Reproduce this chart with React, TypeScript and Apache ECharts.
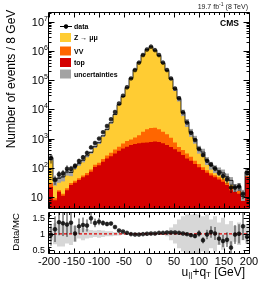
import React, { useEffect, useRef } from "react";
import * as echarts from "echarts";

const X_MIN = -200;
const X_MAX = 200;
const BIN_WIDTH = 8;
const Y_MIN = 4.2;
const Y_MAX = 2e7;
const R_MIN = 0.4;
const R_MAX = 1.65;

const xTickLabels = [-200, -150, -100, -50, 0, 50, 100, 150, 200];
const ratioTickLabels = [0.5, 1, 1.5];

const dataCounts = [215, 40, 60, 65, 93, 93, 115, 170, 230, 325, 500, 710, 1000, 1660, 2700, 4600, 8100, 16000, 29500, 57000, 115000, 224000, 400000, 725000, 1120000, 1410000, 1070000, 725000, 400000, 224000, 115000, 52000, 24000, 7900, 3550, 1580, 890, 440, 275, 175, 130, 95, 67, 52, 40, 21, 21, 23, 13, 67];
const zmumu = [192, 26, 27, 36, 52, 39, 78, 94, 125, 192, 248, 402, 575, 1040, 1800, 3150, 6270, 14000, 26900, 54500, 115200, 227500, 406900, 730600, 1117900, 1393700, 1057100, 701800, 386700, 214000, 109500, 49260, 22780, 7410, 3280, 1410, 780, 300, 240, 96, 58, 38, 32, 27, 19, 14, 1.5, 6, 0.5, 18];
const diboson = [8, 1.2, 2, 2, 3, 4, 5, 6, 8, 10, 15, 21, 27, 38, 56, 80, 111, 150, 223, 295, 340, 450, 610, 980, 1360, 1530, 1560, 1340, 1010, 800, 550, 310, 165, 135, 100, 65, 40, 30, 21, 15, 10, 9, 7, 7, 4, 6, 3, 4, 2.2, 7];
const ttbar = [22, 7.8, 15, 11, 17, 26, 31, 38, 47, 56, 73, 107, 123, 162, 209, 250, 309, 380, 457, 525, 600, 650, 690, 720, 740, 770, 790, 760, 690, 600, 520, 430, 355, 275, 210, 175, 135, 105, 84, 68, 55, 47, 40, 33, 26, 17, 17, 13, 7.8, 49];
const dataRelErr = [0.35, 0.35, 0.3, 0.3, 0.3, 0.25, 0.25, 0.2, 0.18, 0.15, 0.12, 0.1, 0.08, 0.06, 0.05, 0.04, 0.03, 0.02, 0.015, 0.01, 0.01, 0.005, 0.005, 0.005, 0.005, 0.005, 0.005, 0.005, 0.005, 0.005, 0.01, 0.01, 0.015, 0.02, 0.03, 0.05, 0.07, 0.1, 0.12, 0.15, 0.17, 0.2, 0.22, 0.25, 0.28, 0.35, 0.3, 0.3, 0.35, 0.2];
const mcRelUnc = [0.2, 0.3, 0.3, 0.3, 0.25, 0.25, 0.2, 0.15, 0.15, 0.12, 0.1, 0.1, 0.1, 0.08, 0.08, 0.07, 0.06, 0.05, 0.04, 0.03, 0.02, 0.02, 0.02, 0.02, 0.02, 0.02, 0.02, 0.02, 0.04, 0.06, 0.1, 0.15, 0.2, 0.25, 0.3, 0.3, 0.3, 0.3, 0.3, 0.3, 0.3, 0.3, 0.3, 0.3, 0.3, 0.3, 0.3, 0.3, 0.3, 0.3];
const ratioBandHalf = [0.2, 0.33, 0.4, 0.4, 0.3, 0.35, 0.25, 0.15, 0.2, 0.15, 0.12, 0.1, 0.12, 0.1, 0.08, 0.08, 0.06, 0.05, 0.04, 0.03, 0.02, 0.02, 0.02, 0.02, 0.02, 0.02, 0.02, 0.02, 0.04, 0.08, 0.2, 0.3, 0.45, 0.55, 0.6, 0.6, 0.62, 0.6, 0.55, 0.6, 0.45, 0.55, 0.35, 0.5, 0.3, 0.4, 0.25, 0.35, 0.2, 0.3];

const YELLOW = "#ffcc33";
const ORANGE = "#ff6600";
const RED = "#d40000";
const GRAY = "#a3a3a3";
const FONT = "Liberation Sans, Arial, Helvetica, sans-serif";

const N = dataCounts.length;
const edges = Array.from({ length: N + 1 }, (_, i) => X_MIN + i * BIN_WIDTH);
const centers = edges.slice(0, N).map((e) => e + BIN_WIDTH / 2);
const ewk = ttbar.map((t, i) => t + diboson[i]);
const mcTotal = ewk.map((v, i) => v + zmumu[i]);
const ratio = dataCounts.map((d, i) => d / mcTotal[i]);

function openStep(api: any, vals: number[], yb: number) {
  const pts: number[][] = [];
  pts.push([api.coord([edges[0], vals[0]])[0], yb]);
  for (let i = 0; i < N; i++) {
    const a = api.coord([edges[i], vals[i]]);
    const b = api.coord([edges[i + 1], vals[i]]);
    pts.push([a[0], a[1]], [b[0], b[1]]);
  }
  pts.push([api.coord([edges[N], vals[N - 1]])[0], yb]);
  return pts;
}

function line(x1: number, y1: number, x2: number, y2: number, w = 1) {
  return { type: "line", shape: { x1, y1, x2, y2 }, style: { stroke: "#000", lineWidth: w } };
}

const logTicks: [number, boolean][] = [];
for (let k = 0; k <= 7; k++) {
  for (let m = 1; m <= 9; m++) {
    const v = m * Math.pow(10, k);
    if (v >= Y_MIN && v <= Y_MAX) logTicks.push([v, m === 1]);
  }
}
const ratioTicks: [number, boolean][] = [];
for (let j = 4; j <= 16; j++) ratioTicks.push([j / 10, j % 5 === 0]);

function frameTicks(params: any, api: any, refY: number, yTicks: [number, boolean][], xl: number[], yl: number[]) {
  const cs = params.coordSys;
  const x0 = Math.round(cs.x) - 0.5;
  const x1 = Math.round(cs.x + cs.width) + 0.5;
  const y0 = Math.round(cs.y) - 0.5;
  const y1 = Math.round(cs.y + cs.height) + 0.5;
  const children: any[] = [];
  for (let v = X_MIN; v <= X_MAX; v += 10) {
    const px = Math.round(api.coord([v, refY])[0]) + 0.5;
    const major = v % 50 === 0;
    const l = major ? xl[0] : xl[1];
    children.push(line(px, y1, px, y1 - l), line(px, y0, px, y0 + l));
  }
  yTicks.forEach(([v, major]) => {
    const py = Math.round(api.coord([X_MIN, v])[1]) + 0.5;
    const l = major ? yl[0] : yl[1];
    children.push(line(x0, py, x0 + l, py), line(x1, py, x1 - l, py));
  });
  children.push({
    type: "rect",
    shape: { x: x0, y: y0, width: x1 - x0, height: y1 - y0 },
    style: { fill: "none", stroke: "#000", lineWidth: 1 },
  });
  return { type: "group", children };
}

function buildOption(): any {
  return {
    animation: false,
    grid: [
      { left: 49, top: 13, width: 200, height: 195, outerBoundsMode: "none", containLabel: false },
      { left: 49, top: 213, width: 200, height: 40, outerBoundsMode: "none", containLabel: false },
    ],
    xAxis: [
      {
        gridIndex: 0, type: "value", min: X_MIN, max: X_MAX,
        axisLine: { show: false }, axisTick: { show: false }, axisLabel: { show: false }, splitLine: { show: false },
      },
      {
        gridIndex: 1, type: "value", min: X_MIN, max: X_MAX,
        axisLine: { show: false }, axisTick: { show: false }, splitLine: { show: false },
        axisLabel: {
          customValues: xTickLabels, fontSize: 11, lineHeight: 11, color: "#000", fontFamily: FONT, margin: 2,
          showMinLabel: true, showMaxLabel: true, hideOverlap: false,
        },
      },
    ],
    yAxis: [
      {
        gridIndex: 0, type: "log", logBase: 10, min: Y_MIN, max: Y_MAX,
        axisLine: { show: false }, axisTick: { show: false }, splitLine: { show: false },
        axisLabel: {
          margin: 1, showMinLabel: false, showMaxLabel: false, color: "#000", fontFamily: FONT,
          formatter: (v: number) => {
            const l = Math.log10(v);
            const e = Math.round(l);
            if (Math.abs(l - e) > 1e-6) return "";
            if (e === 1) return "{b|10}{pad| }";
            return "{b|10}{sup|" + e + "}";
          },
          rich: {
            b: { fontSize: 11, lineHeight: 14, fontFamily: FONT, color: "#000" },
            sup: { fontSize: 7, lineHeight: 8, verticalAlign: "top", fontFamily: FONT, color: "#000" },
            pad: { fontSize: 7, width: 5 },
          },
        },
      },
      {
        gridIndex: 1, type: "value", min: R_MIN, max: R_MAX,
        axisLine: { show: false }, axisTick: { show: false }, splitLine: { show: false },
        axisLabel: {
          customValues: ratioTickLabels, fontSize: 9, color: "#000", fontFamily: FONT, margin: 4,
          formatter: (v: number) => String(v),
        },
      },
    ],
    series: [
      {
        type: "custom", name: "stack", xAxisIndex: 0, yAxisIndex: 0, z: 2,
        data: [[0, 100]],
        renderItem: (params: any, api: any) => {
          const cs = params.coordSys;
          const yb = cs.y + cs.height;
          const children: any[] = [];
          ([[mcTotal, YELLOW], [ewk, ORANGE], [ttbar, RED]] as [number[], string][]).forEach(([vals, color]) => {
            children.push({ type: "polygon", shape: { points: openStep(api, vals, yb) }, style: { fill: color } });
          });
          for (let i = 0; i < N; i++) {
            const p1 = api.coord([edges[i], mcTotal[i] * (1 + mcRelUnc[i])]);
            const p2 = api.coord([edges[i + 1], mcTotal[i] * (1 - mcRelUnc[i])]);
            children.push({
              type: "rect",
              shape: { x: p1[0], y: p1[1], width: p2[0] - p1[0], height: p2[1] - p1[1] },
              style: { fill: GRAY },
            });
          }
          children.push({
            type: "polyline",
            shape: { points: openStep(api, mcTotal, yb).slice(1, -1) },
            style: { stroke: "#000", lineWidth: 0.8, fill: "none" },
          });
          return { type: "group", children };
        },
      },
      {
        type: "custom", name: "dataErr", xAxisIndex: 0, yAxisIndex: 0, z: 3,
        data: [[0, 100]],
        renderItem: (params: any, api: any) => {
          const children: any[] = [];
          for (let i = 0; i < N; i++) {
            const a = api.coord([centers[i], dataCounts[i] * (1 + dataRelErr[i])]);
            const b = api.coord([centers[i], dataCounts[i] * (1 - dataRelErr[i])]);
            children.push(line(a[0], a[1], b[0], b[1], 0.8));
          }
          return { type: "group", children };
        },
      },
      {
        type: "scatter", name: "data", xAxisIndex: 0, yAxisIndex: 0, z: 4,
        symbol: "circle", symbolSize: 4.5, itemStyle: { color: "#000" },
        data: centers.map((c, i) => [c, dataCounts[i]]),
      },
      {
        type: "custom", name: "frame0", xAxisIndex: 0, yAxisIndex: 0, z: 6,
        data: [[0, 100]],
        renderItem: (params: any, api: any) => frameTicks(params, api, 100, logTicks, [5, 2.5], [6, 3]),
      },
      {
        type: "custom", name: "band", xAxisIndex: 1, yAxisIndex: 1, z: 2, clip: true,
        data: [[0, 1]],
        renderItem: (params: any, api: any) => {
          const upper = ratioBandHalf.map((u) => 1 + u);
          const lower = ratioBandHalf.map((u) => 1 - u);
          const up: number[][] = [];
          const lo: number[][] = [];
          for (let i = 0; i < N; i++) {
            const a = api.coord([edges[i], upper[i]]);
            const b = api.coord([edges[i + 1], upper[i]]);
            up.push(a, b);
            const c = api.coord([edges[i], lower[i]]);
            const d = api.coord([edges[i + 1], lower[i]]);
            lo.push(c, d);
          }
          const pts = up.concat(lo.reverse());
          const l1 = api.coord([X_MIN, 1]);
          const l2 = api.coord([X_MAX, 1]);
          return {
            type: "group",
            children: [
              { type: "polygon", shape: { points: pts }, style: { fill: "rgba(150,150,150,0.38)" } },
              {
                type: "line", shape: { x1: l1[0], y1: l1[1], x2: l2[0], y2: l2[1] },
                style: { stroke: "#e00000", lineWidth: 1.3, lineDash: [3, 2] },
              },
            ],
          };
        },
      },
      {
        type: "custom", name: "ratioErr", xAxisIndex: 1, yAxisIndex: 1, z: 3, clip: true,
        data: [[0, 1]],
        renderItem: (params: any, api: any) => {
          const children: any[] = [];
          for (let i = 0; i < N; i++) {
            const a = api.coord([centers[i], ratio[i] * (1 + dataRelErr[i])]);
            const b = api.coord([centers[i], ratio[i] * (1 - dataRelErr[i])]);
            children.push(line(a[0], a[1], b[0], b[1], 0.8));
          }
          return { type: "group", children };
        },
      },
      {
        type: "scatter", name: "ratio", xAxisIndex: 1, yAxisIndex: 1, z: 4,
        symbol: "circle", symbolSize: 4.5, itemStyle: { color: "#000" },
        data: centers.map((c, i) => [c, ratio[i]]),
      },
      {
        type: "custom", name: "frame1", xAxisIndex: 1, yAxisIndex: 1, z: 6,
        data: [[0, 1]],
        renderItem: (params: any, api: any) => frameTicks(params, api, 1, ratioTicks, [5, 2.5], [6, 3]),
      },
    ],
    graphic: [
      { type: "line", shape: { x1: 60, y1: 26.5, x2: 72, y2: 26.5 }, style: { stroke: "#000", lineWidth: 1 } },
      { type: "circle", shape: { cx: 66, cy: 26.5, r: 2.2 }, style: { fill: "#000" } },
      { type: "text", x: 74, y: 26.5, style: { text: "data", font: "bold 7px " + FONT, fill: "#000", verticalAlign: "middle", textVerticalAlign: "middle" } },
      { type: "rect", shape: { x: 60, y: 33, width: 11, height: 9 }, style: { fill: YELLOW } },
      { type: "text", x: 74, y: 37.5, style: { text: "Z → μμ", font: "bold 7px " + FONT, fill: "#000", verticalAlign: "middle", textVerticalAlign: "middle" } },
      { type: "rect", shape: { x: 60, y: 46.5, width: 11, height: 9 }, style: { fill: ORANGE } },
      { type: "text", x: 74, y: 51, style: { text: "VV", font: "bold 7px " + FONT, fill: "#000", verticalAlign: "middle", textVerticalAlign: "middle" } },
      { type: "rect", shape: { x: 60, y: 58, width: 11, height: 9 }, style: { fill: RED } },
      { type: "text", x: 74, y: 62.5, style: { text: "top", font: "bold 7px " + FONT, fill: "#000", verticalAlign: "middle", textVerticalAlign: "middle" } },
      { type: "rect", shape: { x: 60, y: 69.5, width: 11, height: 9 }, style: { fill: GRAY } },
      { type: "text", x: 74, y: 74, style: { text: "uncertainties", font: "bold 7px " + FONT, fill: "#000", verticalAlign: "middle", textVerticalAlign: "middle" } },
      { type: "text", x: 239, y: 23, style: { text: "CMS", font: "bold 8.5px " + FONT, fill: "#000", align: "right", textAlign: "right", verticalAlign: "middle", textVerticalAlign: "middle" } },
      {
        type: "text", x: 248, y: 6,
        style: {
          text: "{n|19.7 fb}{s|-1}{n| (8 TeV)}", align: "right", textAlign: "right", verticalAlign: "middle", textVerticalAlign: "middle",
          rich: {
            n: { fontSize: 7, lineHeight: 9, fontFamily: FONT, fill: "#222", color: "#222" },
            s: { fontSize: 5, lineHeight: 5, verticalAlign: "top", fontFamily: FONT, fill: "#222", color: "#222" },
          },
        },
      },
      {
        type: "text", x: 11, y: 79, rotation: Math.PI / 2,
        style: { text: "Number of events / 8 GeV", font: "12px " + FONT, fill: "#000", align: "center", textAlign: "center", verticalAlign: "middle", textVerticalAlign: "middle" },
      },
      {
        type: "text", x: 15, y: 232, rotation: Math.PI / 2,
        style: { text: "Data/MC", font: "9.5px " + FONT, fill: "#000", align: "center", textAlign: "center", verticalAlign: "middle", textVerticalAlign: "middle" },
      },
      {
        type: "text", x: 245, y: 272,
        style: {
          text: "{m|u}{s|||}{m|+q}{s|T}{m| [GeV]}", align: "right", textAlign: "right", verticalAlign: "middle", textVerticalAlign: "middle",
          rich: {
            m: { fontSize: 12, lineHeight: 12, fontFamily: FONT, fill: "#000", color: "#000" },
            s: { fontSize: 8, lineHeight: 7, verticalAlign: "bottom", fontFamily: FONT, fill: "#000", color: "#000" },
          },
        },
      },
    ],
  };
}

export default function App() {
  const ref = useRef<HTMLDivElement>(null);
  useEffect(() => {
    const chart = echarts.init(ref.current!, undefined, { renderer: "svg" });
    chart.setOption(buildOption());
    return () => chart.dispose();
  }, []);
  return <div ref={ref} style={{ position: "fixed", left: 0, top: 0, width: 266, height: 282 }} />;
}
